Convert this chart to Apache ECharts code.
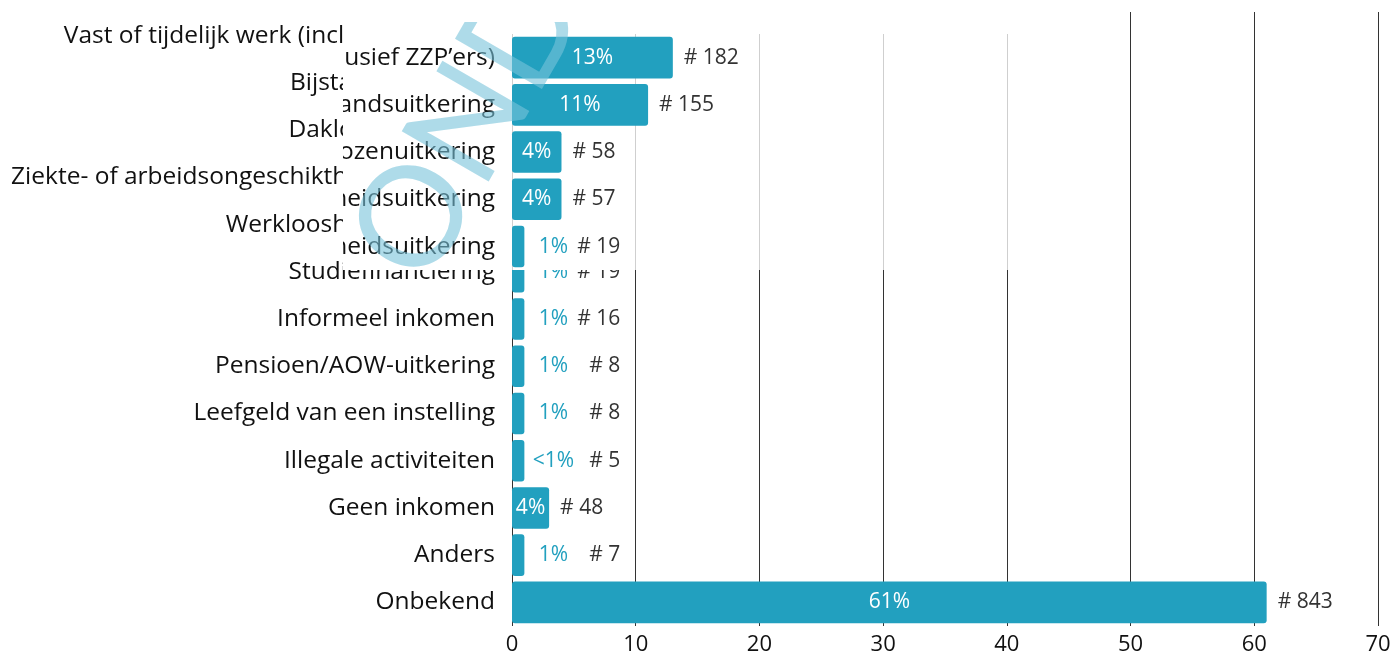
<!DOCTYPE html>
<html>
<head>
<meta charset="utf-8">
<script src="https://cdn.jsdelivr.net/npm/echarts@6/dist/echarts.min.js"></script>
<style>
  html, body { margin: 0; padding: 0; background: #fff; }
  #base { position: absolute; left: 0; top: 0; width: 1397px; height: 657px; }
  #clip { position: absolute; left: 343px; top: 0; width: 730px; height: 270px; overflow: hidden; background: #fff; }
  #over { position: absolute; left: -343px; top: 22px; width: 1397px; height: 657px; }
</style>
</head>
<body>
<div id="base"></div>
<div id="clip"><div id="over"></div></div>
<script>
// categorieën (van boven naar beneden)
const categories = [
  'Vast of tijdelijk werk (inclusief ZZP\u2019ers)',
  'Bijstandsuitkering',
  'Daklozenuitkering',
  'Ziekte- of arbeidsongeschiktheidsuitkering',
  'Werkloosheidsuitkering',
  'Studiefinanciering',
  'Informeel inkomen',
  'Pensioen/AOW-uitkering',
  'Leefgeld van een instelling',
  'Illegale activiteiten',
  'Geen inkomen',
  'Anders',
  'Onbekend'
]
// lengte van de balk (%)
const barValues = [13, 11, 4, 4, 1, 1, 1, 1, 1, 1, 3, 1, 61]
// label in procenten
const pctLabels = ['13%', '11%', '4%', '4%', '1%', '1%', '1%', '1%', '1%', '<1%', '4%', '1%', '61%']
// aantallen
const counts = [182, 155, 58, 57, 19, 19, 16, 8, 8, 5, 48, 7, 843]
const xTicks = [0, 10, 20, 30, 40, 50, 60, 70]

const BLUE = '#22a0bf'
const FONT = '"Open Sans", Lato, sans-serif'

function makeOption(gridColor, withWatermark) {
  const opt = {
    animation: false,
    backgroundColor: '#fff',
    grid: { left: 512, right: 19, top: 12, bottom: 31 },
    xAxis: {
      type: 'value',
      min: xTicks[0],
      max: xTicks[xTicks.length - 1],
      interval: 10,
      axisLine: { show: false },
      axisTick: { show: false },
      axisLabel: { fontSize: 22, color: '#111', fontFamily: FONT, margin: 8 },
      splitLine: { show: true, lineStyle: { color: gridColor, width: 1 } }
    },
    yAxis: {
      type: 'category',
      inverse: true,
      data: categories,
      axisLine: { show: false },
      axisTick: { show: false },
      axisLabel: { fontSize: 24.5, color: '#111', fontFamily: FONT, margin: 17 }
    },
    series: [
      {
        type: 'bar',
        barWidth: '88%',
        data: barValues.map((v, i) => ({
          value: v,
          label: { show: v >= 3 }
        })),
        itemStyle: { color: BLUE, borderRadius: 3 },
        label: {
          position: 'inside',
          color: '#fff',
          fontSize: 21,
          fontFamily: FONT,
          formatter: p => pctLabels[p.dataIndex]
        },
        z: 2
      },
      {
        type: 'bar',
        barWidth: '88%',
        barGap: '-100%',
        data: barValues,
        itemStyle: { color: 'rgba(0,0,0,0)' },
        label: {
          show: true,
          position: 'right',
          distance: 11,
          fontSize: 21,
          color: '#333',
          fontFamily: FONT,
          formatter: p => {
            const i = p.dataIndex
            if (barValues[i] >= 3) return '# ' + counts[i]
            return '{p|' + pctLabels[i] + '}{c|# ' + counts[i] + '}'
          },
          rich: {
            p: { color: BLUE, fontSize: 21, fontFamily: FONT, width: 36, align: 'center' },
            c: { color: '#333', fontSize: 21, fontFamily: FONT, width: 49, align: 'right' }
          }
        },
        z: 3
      }
    ]
  }
  if (withWatermark) {
    // watermerk, gedraaid
    opt.graphic = [{
      type: 'text',
      x: 387,
      y: 245,
      rotation: Math.PI / 3,
      z: 100,
      style: {
        text: 'ONDER VOORBEHOUD',
        fontSize: 140,
        fontFamily: 'Lato, sans-serif',
        fill: 'rgba(120,195,218,0.6)',
        verticalAlign: 'middle'
      }
    }]
  }
  return opt
}

const base = echarts.init(document.getElementById('base'))
base.setOption(makeOption('#333', false))

const over = echarts.init(document.getElementById('over'))
over.setOption(makeOption('#cfcfcf', true))
</script>
</body>
</html>
